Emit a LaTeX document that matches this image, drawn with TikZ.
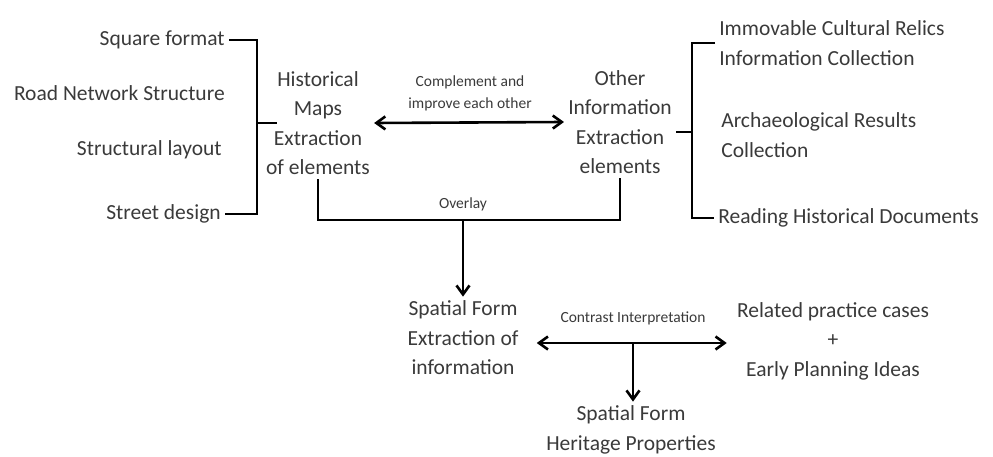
\documentclass[tikz,border=0pt]{standalone}
\usepackage{fontspec}
\setmainfont{Carlito}
\usetikzlibrary{arrows.meta}
\definecolor{txtgray}{HTML}{3A3A3A}

\begin{document}
\begin{tikzpicture}[x=1pt, y=-1pt, >={Straight Barb[length=9pt,width=13pt]}, line width=2.6pt,
    leaf/.style={text=txtgray, inner sep=3pt, font=\fontsize{21.5}{29.5}\selectfont},
    block/.style={leaf, align=center},
    lbl/.style={text=txtgray, inner sep=0pt, align=center, font=\fontsize{15.5}{22}\selectfont}]
    \useasboundingbox (0,0) rectangle (993,457);
    % Nodes
    \node[leaf, anchor=east] (square) at (229,40) {Square format};
    \node[leaf, anchor=east] (road) at (229,93) {Road Network Structure};
    \node[leaf, anchor=east] (layout) at (226,150) {Structural layout};
    \node[leaf, anchor=east] (street) at (225,214) {Street design};
    \node[block] (hist) at (318,123) {Historical\\Maps\\Extraction\\of elements};
    \node[block] (other) at (620,122) {Other\\Information\\Extraction\\elements};
    \node[leaf, align=left, anchor=west] (relics) at (715,43) {Immovable Cultural Relics\\Information Collection};
    \node[leaf, align=left, anchor=west] (arch) at (717,135) {Archaeological Results\\Collection};
    \node[leaf, anchor=west] (docs) at (714,218) {Reading Historical Documents};
    \node[block, inner xsep=17pt] (sfe) at (463,338) {Spatial Form\\Extraction of\\information};
    \node[block, inner xsep=9pt] (cases) at (833,341) {Related practice cases\\+\\Early Planning Ideas};
    \node[block] (sfh) at (631,430) {Spatial Form\\Heritage Properties};
    \node[lbl] (comp) at (470,93) {Complement and\\improve each other};
    \node[lbl] (ovl) at (463,204) {Overlay};
    \node[lbl] (contr) at (633,318) {Contrast Interpretation};
    \coordinate (lmid) at (257,123);
    \coordinate (rmid) at (692,132);
    \coordinate (ov) at (463,220);
    \coordinate (cj) at (633,343);

    % Arrows
    \draw (square.east) -| (lmid) |- (street.east);
    \draw (lmid) -- ++(20,0);
    \draw (relics.west) -| (rmid) |- (docs.west);
    \draw (other.east |- rmid) -- (rmid);
    \draw[<->] (hist.east) -- (other.west);
    \draw (hist.south) |- (ov) -| (other.south);
    \draw[->] (ov) -- (sfe.north);
    \draw[<->] (sfe.east |- cj) -- (cases.west |- cj);
    \draw[->] (cj) -- (cj |- sfh.north);
\end{tikzpicture}
\end{document}
